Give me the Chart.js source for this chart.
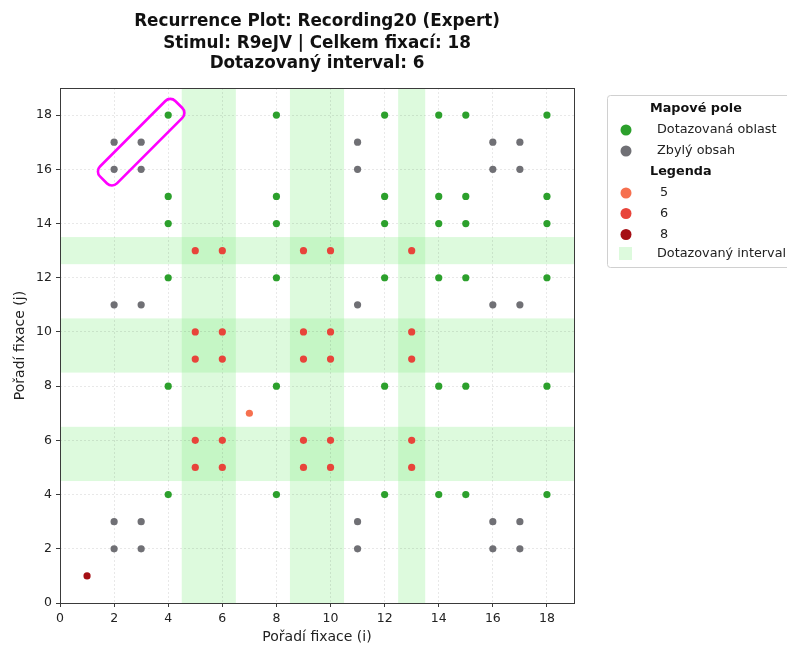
<!DOCTYPE html>
<html>
<head>
<meta charset="utf-8">
<script src="https://cdn.jsdelivr.net/npm/chart.js@4/dist/chart.umd.min.js"></script>
<style>
  html, body { margin: 0; padding: 0; background: #fff; }
  #wrap { width: 787px; height: 646px; position: relative; }
</style>
</head>
<body>
<div id="wrap"><canvas id="c"></canvas></div>
<script>
// Area hit by each fixation, in order (fixation 1 .. 18)
const fixationAreas = ['8', 'rest', 'rest', 'query', '6', '6', '5', 'query', '6',
                       '6', 'rest', 'query', '6', 'query', 'query', 'rest', 'rest', 'query'];

// Series: area key, legend label, colour
const areaKeys   = ['query', 'rest', '5', '6', '8'];
const areaLabels = ['Dotazovaná oblast', 'Zbylý obsah', '5', '6', '8'];
const areaColors = ['#2ca02c', '#707075', '#f6704f', '#e8443a', '#a50f15'];

// Fixations belonging to the queried interval
const intervalFixations = [5, 6, 9, 10, 13];

// Highlighted diagonal run (start and end fixation pair)
const highlightRun = [[2, 16], [4, 18]];

// Axis settings
const axisMax = 19;
const tickStep = 2;

const titleLines = ['Recurrence Plot: Recording20 (Expert)',
                    'Stimul: R9eJV | Celkem fixací: 18',
                    'Dotazovaný interval: 6'];

// Recurrence points: every pair (i, j) of fixations that share the same area
function recurrencePoints(key) {
  const pts = [];
  fixationAreas.forEach((ai, i) => {
    fixationAreas.forEach((aj, j) => {
      if (ai === key && aj === key) pts.push({ x: i + 1, y: j + 1 });
    });
  });
  return pts;
}

// Merge consecutive interval fixations into spans [from, to]
function intervalSpans() {
  const spans = [];
  intervalFixations.forEach(f => {
    const last = spans[spans.length - 1];
    if (last && last[1] === f - 0.5) last[1] = f + 0.5;
    else spans.push([f - 0.5, f + 0.5]);
  });
  return spans;
}

const datasets = areaKeys.map((k, idx) => ({
  label: areaLabels[idx],
  data: recurrencePoints(k),
  backgroundColor: areaColors[idx],
  borderWidth: 0,
  pointRadius: 3.6,
  pointHoverRadius: 3.6
}));

const bandColor = 'rgba(144, 238, 144, 0.30)';

const decorPlugin = {
  id: 'decor',
  beforeDraw(chart) {
    const { ctx, chartArea: a, scales: { x, y } } = chart;
    ctx.save();
    ctx.fillStyle = '#fff';
    ctx.fillRect(0, 0, chart.width, chart.height);
    ctx.beginPath();
    ctx.rect(a.left, a.top, a.right - a.left, a.bottom - a.top);
    ctx.clip();
    ctx.fillStyle = bandColor;
    intervalSpans().forEach(([s, e]) => {
      const x0 = x.getPixelForValue(s), x1 = x.getPixelForValue(e);
      ctx.fillRect(x0, a.top, x1 - x0, a.bottom - a.top);
    });
    intervalSpans().forEach(([s, e]) => {
      const y0 = y.getPixelForValue(e), y1 = y.getPixelForValue(s);
      ctx.fillRect(a.left, y0, a.right - a.left, y1 - y0);
    });
    ctx.restore();
  },
  afterDatasetsDraw(chart) {
    const { ctx, chartArea: a, scales: { x, y } } = chart;
    // highlighted diagonal run
    const p0 = [x.getPixelForValue(highlightRun[0][0]), y.getPixelForValue(highlightRun[0][1])];
    const p1 = [x.getPixelForValue(highlightRun[1][0]), y.getPixelForValue(highlightRun[1][1])];
    const cx = (p0[0] + p1[0]) / 2, cy = (p0[1] + p1[1]) / 2;
    const len = Math.hypot(p1[0] - p0[0], p1[1] - p0[1]) + 30;
    const ang = Math.atan2(p1[1] - p0[1], p1[0] - p0[0]);
    const w = 24;
    ctx.save();
    ctx.translate(cx, cy);
    ctx.rotate(ang);
    ctx.beginPath();
    ctx.roundRect(-len / 2, -w / 2, len, w, 7);
    ctx.strokeStyle = '#ff00ff';
    ctx.lineWidth = 2.6;
    ctx.stroke();
    ctx.restore();

    // frame
    ctx.save();
    ctx.strokeStyle = '#3a3a3a';
    ctx.lineWidth = 1;
    ctx.strokeRect(Math.round(a.left) + 0.5, Math.round(a.top) + 0.5,
                   Math.round(a.right - a.left), Math.round(a.bottom - a.top));
    ctx.restore();
  },
  afterDraw(chart) {
    const { ctx, chartArea: a } = chart;
    ctx.save();
    // title
    ctx.fillStyle = '#111';
    ctx.font = 'bold 16.8px "DejaVu Sans"';
    ctx.textAlign = 'center';
    ctx.textBaseline = 'middle';
    const tc = (a.left + a.right) / 2;
    [22, 43.5, 64].forEach((ty, i) => ctx.fillText(titleLines[i], tc, ty));

    // legend box
    const lx = 607.5, ly = 95.5;
    ctx.beginPath();
    ctx.roundRect(lx, ly, 200, 172, 3);
    ctx.fillStyle = 'rgba(255,255,255,0.9)';
    ctx.fill();
    ctx.strokeStyle = '#d0d0d0';
    ctx.lineWidth = 1;
    ctx.stroke();

    ctx.textAlign = 'left';
    ctx.fillStyle = '#111';
    ctx.font = 'bold 12.8px "DejaVu Sans"';
    ctx.fillText('Mapové pole', 650, 109);
    ctx.fillText('Legenda', 650, 172);

    ctx.font = '12.8px "DejaVu Sans"';
    const rows = [
      { i: 0, y: 130 }, { i: 1, y: 151 },
      { i: 2, y: 193 }, { i: 3, y: 213.5 }, { i: 4, y: 234.5 }
    ];
    rows.forEach(r => {
      ctx.beginPath();
      ctx.arc(626, r.y, 5.5, 0, Math.PI * 2);
      ctx.fillStyle = areaColors[r.i];
      ctx.fill();
      ctx.fillStyle = '#222';
      ctx.fillText(areaLabels[r.i], r.i < 2 ? 657 : 660, r.y);
    });
    ctx.fillStyle = bandColor;
    ctx.fillRect(619, 247, 13, 13);
    ctx.fillStyle = '#222';
    ctx.fillText('Dotazovaný interval', 657, 254);
    ctx.restore();
  }
};

function evenTicks(scale) {
  scale.ticks = scale.ticks.filter(t => t.value % tickStep === 0 && t.value <= axisMax);
}

const axisCommon = {
  type: 'linear',
  min: 0,
  max: axisMax,
  afterBuildTicks: evenTicks,
  ticks: { stepSize: tickStep, color: '#222', font: { family: 'DejaVu Sans', size: 12.5 }, padding: 4 },
  grid: { color: 'rgba(0,0,0,0.09)', lineWidth: 1, tickLength: 4, tickColor: '#3a3a3a', tickWidth: 1 },
  border: { display: false, dash: [2, 2] }
};

new Chart(document.getElementById('c'), {
  type: 'scatter',
  data: { datasets },
  options: {
    responsive: true,
    maintainAspectRatio: false,
    animation: false,
    events: [],
    layout: { padding: { top: 88, right: 213, left: 0, bottom: 0 } },
    plugins: {
      legend: { display: false },
      title: { display: false },
      tooltip: { enabled: false }
    },
    scales: {
      x: Object.assign({}, axisCommon, {
        position: 'bottom',
        afterFit(s) { s.height = 43; },
        title: { display: true, text: 'Pořadí fixace (i)', color: '#222',
                 font: { family: 'DejaVu Sans', size: 14 }, padding: { top: 0, bottom: 0 } }
      }),
      y: Object.assign({}, axisCommon, {
        position: 'left',
        afterFit(s) { s.width = 60; },
        title: { display: true, text: 'Pořadí fixace (j)', color: '#222',
                 font: { family: 'DejaVu Sans', size: 14 }, padding: { top: 12, bottom: 0 } }
      })
    }
  },
  plugins: [decorPlugin]
});
</script>
</body>
</html>
